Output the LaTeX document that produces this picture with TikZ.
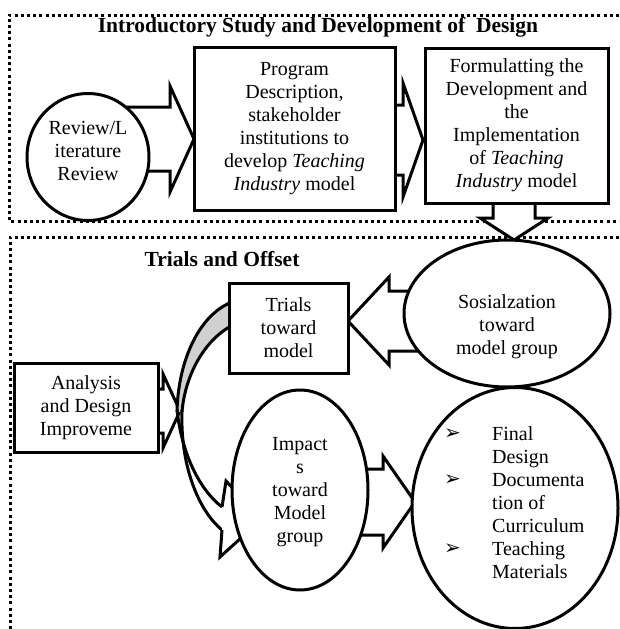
\documentclass[tikz,border=0pt]{standalone}
\usepackage{fontspec}
\setmainfont{Liberation Serif}
\newfontfamily\dingfont{DejaVu Sans}
\usetikzlibrary{shapes.geometric}
\definecolor{bandgray}{RGB}{208,208,208}

% horizontal block arrow: tip x, tip y, head base x, head half-height, shaft half-height, tail x
\newcommand{\hblock}[6]{%
  \draw[blockarrow] (#1,#2) -- (#3,#2-#4) -- (#3,#2-#5) -- (#6,#2-#5)
    -- (#6,#2+#5) -- (#3,#2+#5) -- (#3,#2+#4) -- cycle;}
% vertical block arrow: tip x, tip y, head base y, head half-width, shaft half-width, tail y
\newcommand{\vblock}[6]{%
  \draw[blockarrow] (#1,#2) -- (#1-#4,#3) -- (#1-#5,#3) -- (#1-#5,#6)
    -- (#1+#5,#6) -- (#1+#5,#3) -- (#1+#4,#3) -- cycle;}
\newcommand{\pointer}{\raisebox{1pt}{\dingfont\fontsize{20}{20}\selectfont ➢}}

\begin{document}
\begin{tikzpicture}[x=1pt,y=-1pt,
  every node/.style={font=\fontsize{20}{23}\selectfont, inner sep=0pt},
  outline/.style={line width=3pt, draw=black, fill=white},
  boxnode/.style={outline, rectangle, align=center},
  ovalnode/.style={outline, ellipse},
  blockarrow/.style={line width=3pt, draw=black, fill=white, line join=miter},
  bandline/.style={line width=3pt, draw=black},
  phaseframe/.style={line width=3pt, dash pattern=on 3pt off 3.2pt},
  heading/.style={font=\fontsize{21.5}{24}\selectfont\bfseries},
  label/.style={align=center}]

\useasboundingbox (0,0) rectangle (619,629);

% phase frames
\draw[phaseframe] (619,15) -- (9,15) -- (9,221) -- (619,221);
\draw[phaseframe] (619,237) -- (10,237) -- (10,629);

\node[heading] (title1) at (318,27) {Introductory Study and Development of\ \ Design};
\node[heading] (title2) at (222,259) {Trials and Offset};

% block arrows of the first phase
\hblock{194}{139}{170}{53}{32}{120}
\hblock{423}{140}{403}{57}{35}{385}
\vblock{514}{240}{218}{34}{21}{190}

% nodes of the first phase
\node[ovalnode, minimum width=122pt, minimum height=127pt] (review) at (88,157) {};
\node[label] (reviewtext) at (88,151) {Review/L\\iterature\\Review};
\node[boxnode, minimum width=201pt, minimum height=163pt] (program) at (294.5,128.5)
  {Program\\Description,\\stakeholder\\institutions to\\develop \textit{Teaching}\\\textit{Industry} model};
\node[boxnode, minimum width=183pt, minimum height=155pt] (formulate) at (516.5,125.5)
  {Formulatting the\\Development and\\the\\Implementation\\of \textit{Teaching}\\\textit{Industry} model};

% second phase arrows
\hblock{348}{321}{389}{44}{30}{430}
\hblock{415}{502}{383}{46}{33}{350}
\hblock{180}{411}{163}{37}{22}{150}

% curved arrow from the trials back round to the impacts
\fill[bandgray] (235,301) .. controls (200,312) and (178,360) .. (177,412)
  -- (182,412) .. controls (185,375) and (205,338) .. (235,324) -- cycle;
\draw[bandline] (235,301) .. controls (200,312) and (178,360) .. (177,412);
\draw[bandline] (235,324) .. controls (205,338) and (185,375) .. (182,412);
\draw[bandline] (182,410) .. controls (180,465) and (198,510) .. (222,530);
\draw[bandline] (177,410) .. controls (182,455) and (200,490) .. (222,507);
\draw[blockarrow] (222,507) -- (226,481) -- (262,519) -- (220,557) -- (222,530);

% nodes of the second phase
\node[boxnode, minimum width=119pt, minimum height=90pt] (trials) at (288.5,328)
  {Trials\\toward\\model};
\node[boxnode, minimum width=144pt, minimum height=89pt] (analysis) at (86,407.5)
  {Analysis\\and Design\\Improveme};
\node[ovalnode, minimum width=206pt, minimum height=147pt] (social) at (507,313.5) {};
\node[label] (socialtext) at (507,327) {Sosialzation\\toward\\model group};
\node[ovalnode, minimum width=136pt, minimum height=200pt] (impacts) at (300,490) {};
\node[label] (impactstext) at (300,492) {Impact\\s\\toward\\Model\\group};
\node[ovalnode, minimum width=206pt, minimum height=241pt] (final) at (515,508) {};
\node[anchor=west] (finaltext) at (444,505) {%
  \begin{tabular}{@{}p{48pt}@{}l@{}}
  \pointer & Final\\
           & Design\\
  \pointer & Documenta\\
           & tion of\\
           & Curriculum\\
  \pointer & Teaching\\
           & Materials
  \end{tabular}};

\end{tikzpicture}
\end{document}
